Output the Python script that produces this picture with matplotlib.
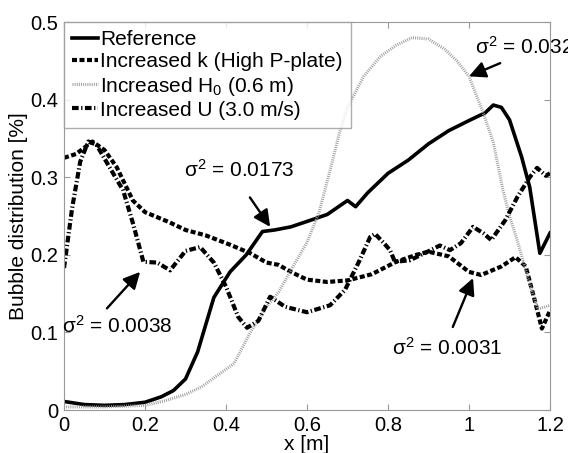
import numpy as np
import matplotlib
matplotlib.use('Agg')
import matplotlib.pyplot as plt

plt.rcParams['font.family'] = ['Liberation Sans', 'DejaVu Sans']
plt.rcParams['mathtext.fontset'] = 'custom'
plt.rcParams['mathtext.rm'] = 'Liberation Sans'
plt.rcParams['mathtext.default'] = 'regular'

# Reference case
x_ref = [0, 0.05, 0.1, 0.15, 0.2, 0.24, 0.27, 0.3, 0.33, 0.37, 0.41, 0.45, 0.49,
         0.52, 0.56, 0.6, 0.65, 0.7, 0.72, 0.75, 0.8, 0.85, 0.9, 0.95, 1.0, 1.04,
         1.06, 1.08, 1.1, 1.13, 1.15, 1.175, 1.2]
y_ref = [0.011, 0.007, 0.006, 0.007, 0.010, 0.017, 0.025, 0.04, 0.075, 0.145,
         0.178, 0.20, 0.23, 0.232, 0.236, 0.243, 0.252, 0.27, 0.262, 0.28, 0.305,
         0.322, 0.343, 0.36, 0.373, 0.383, 0.393, 0.39, 0.374, 0.326, 0.287,
         0.202, 0.228]

# Increased k (High P-plate)
x_k = [0, 0.03, 0.05, 0.07, 0.1, 0.13, 0.17, 0.2, 0.26, 0.3, 0.35, 0.41, 0.46,
       0.5, 0.53, 0.56, 0.6, 0.65, 0.7, 0.76, 0.82, 0.87, 0.9, 0.95, 1.0, 1.03,
       1.08, 1.115, 1.14, 1.16, 1.18, 1.2]
y_k = [0.325, 0.33, 0.338, 0.346, 0.335, 0.313, 0.27, 0.255, 0.242, 0.232,
       0.225, 0.213, 0.202, 0.19, 0.187, 0.178, 0.168, 0.165, 0.167, 0.175,
       0.191, 0.2, 0.204, 0.198, 0.178, 0.174, 0.185, 0.197, 0.185, 0.146,
       0.105, 0.128]

# Increased H0 (0.6 m)
x_h = [0, 0.1, 0.2, 0.25, 0.3, 0.34, 0.38, 0.42, 0.46, 0.5, 0.53, 0.56, 0.6,
       0.63, 0.66, 0.68, 0.7, 0.74, 0.78, 0.82, 0.86, 0.9, 0.94, 0.97, 1.0,
       1.035, 1.06, 1.084, 1.1, 1.12, 1.145, 1.17, 1.2]
y_h = [0.004, 0.004, 0.006, 0.012, 0.02, 0.03, 0.045, 0.06, 0.1, 0.133, 0.152,
       0.18, 0.216, 0.255, 0.315, 0.357, 0.39, 0.43, 0.455, 0.47, 0.48, 0.478,
       0.465, 0.45, 0.43, 0.383, 0.345, 0.283, 0.25, 0.217, 0.171, 0.13, 0.135]

# Increased U (3.0 m/s)
x_u = [0, 0.02, 0.04, 0.06, 0.08, 0.11, 0.146, 0.17, 0.196, 0.23, 0.262, 0.3,
       0.336, 0.37, 0.4, 0.43, 0.452, 0.48, 0.509, 0.546, 0.6, 0.657, 0.694,
       0.73, 0.756, 0.768, 0.79, 0.805, 0.817, 0.854, 0.89, 0.928, 0.953, 0.98,
       1.01, 1.035, 1.055, 1.09, 1.12, 1.15, 1.168, 1.19, 1.2]
y_u = [0.183, 0.26, 0.32, 0.346, 0.342, 0.315, 0.283, 0.241, 0.191, 0.19,
       0.18, 0.205, 0.21, 0.19, 0.159, 0.12, 0.106, 0.115, 0.146, 0.133, 0.126,
       0.135, 0.155, 0.193, 0.223, 0.227, 0.215, 0.206, 0.191, 0.193, 0.202,
       0.212, 0.206, 0.215, 0.236, 0.228, 0.219, 0.245, 0.275, 0.3, 0.312,
       0.302, 0.305]

labels = ['Reference', 'Increased k (High P-plate)',
          'Increased H$_0$ (0.6 m)', 'Increased U (3.0 m/s)']

# variance annotations: text, arrow head, arrow tail, text position
var_texts = ['0.0173', '0.032', '0.0038', '0.0031']
arrow_heads = [(0.509, 0.236), (1.0, 0.43), (0.188, 0.178), (1.01, 0.17)]
arrow_tails = [(0.459, 0.274), (1.077, 0.447), (0.106, 0.131), (0.96, 0.107)]
text_pos = [(0.296, 0.309), (1.015, 0.468), (-0.005, 0.108), (0.81, 0.08)]

fs = 15

fig = plt.figure(figsize=(5.68, 4.53), dpi=100)
ax = fig.add_axes([0.1127, 0.0949, 0.8556, 0.8565])

ax.plot(x_ref, y_ref, color='black', lw=2.6, label=labels[0])
ax.plot(x_k, y_k, color='black', lw=3, linestyle=(0, (1.2, 0.6)), label=labels[1])
ax.plot(x_h, y_h, color='#9a9a9a', lw=2.2, linestyle=(0, (0.3, 0.4)), label=labels[2])
ax.plot(x_u, y_u, color='black', lw=3, linestyle=(0, (1.6, 0.6, 0.3, 0.6)), label=labels[3])

ax.set_xlim(0, 1.2)
ax.set_ylim(0, 0.5)
ax.set_xticks([0, 0.2, 0.4, 0.6, 0.8, 1.0, 1.2])
ax.set_xticklabels(['0', '0.2', '0.4', '0.6', '0.8', '1', '1.2'])
ax.set_yticks([0, 0.1, 0.2, 0.3, 0.4, 0.5])
ax.set_yticklabels(['0', '0.1', '0.2', '0.3', '0.4', '0.5'])
ax.tick_params(direction='in', top=True, right=True, length=4, color='#999999',
               labelsize=14.5, pad=4)
for s in ax.spines.values():
    s.set_color('#999999')

ax.set_xlabel('x [m]', fontsize=fs, labelpad=0)
ax.set_ylabel('Bubble distribution [%]', fontsize=fs, labelpad=2)

leg = ax.legend(loc='upper left', fontsize=fs, frameon=True, fancybox=False,
                borderaxespad=0, handlelength=1.25, handletextpad=0.1,
                labelspacing=0.15, borderpad=0.4)
leg.get_frame().set_edgecolor('#999999')
leg.get_frame().set_linewidth(1)

arrow = dict(arrowstyle='-|>', color='black', lw=1.7, mutation_scale=25,
             shrinkA=0, shrinkB=0)
for txt, head, tail, pos in zip(var_texts, arrow_heads, arrow_tails, text_pos):
    ax.annotate('', xy=head, xytext=tail, arrowprops=arrow)
    ax.text(pos[0], pos[1], 'σ$^2$ = ' + txt, fontsize=fs, va='center',
            clip_on=False)

fig.savefig('out.png', dpi=100)
